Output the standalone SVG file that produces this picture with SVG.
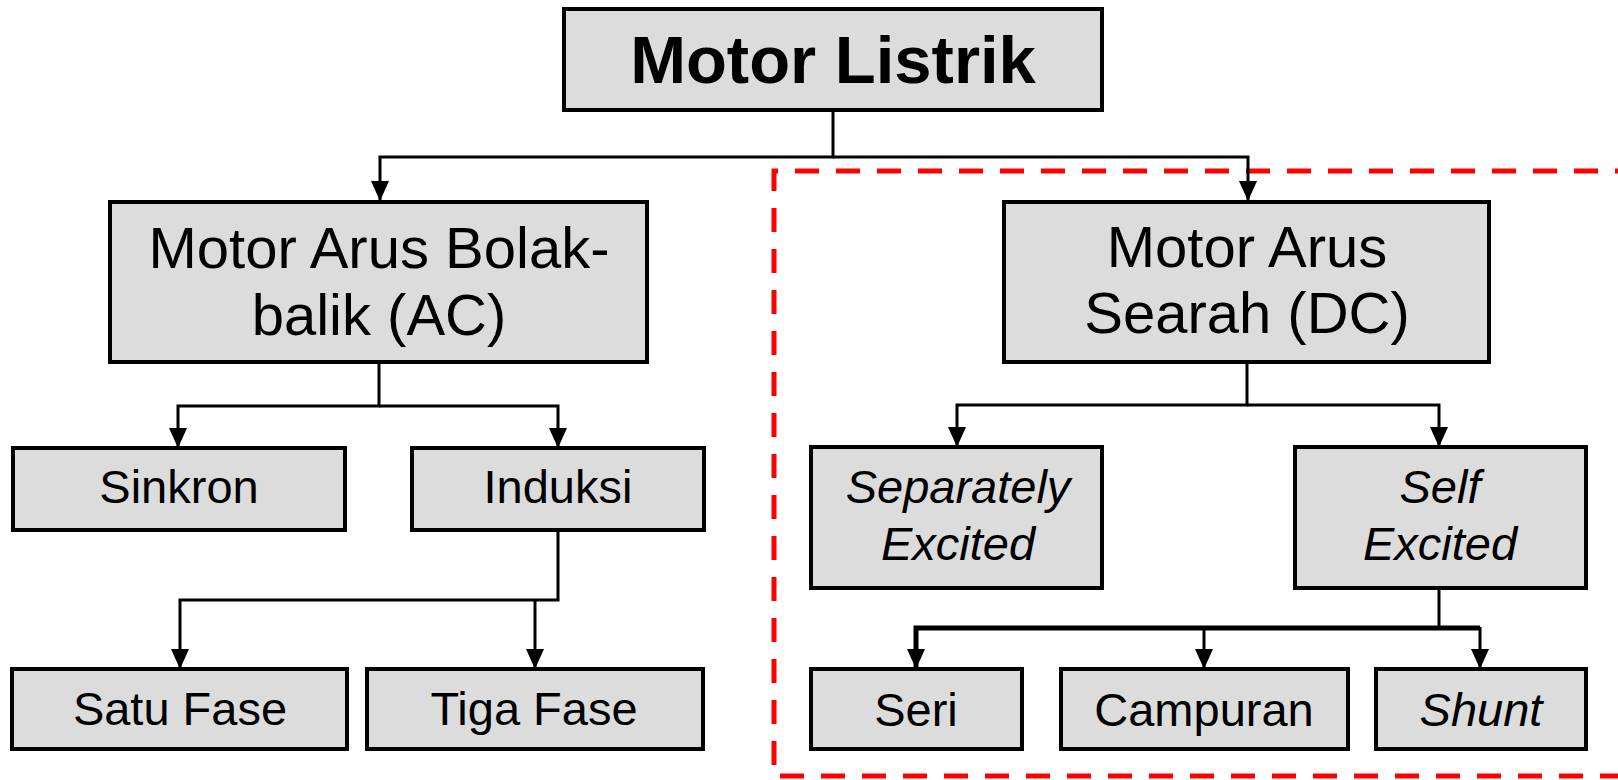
<svg xmlns="http://www.w3.org/2000/svg" width="1618" height="780" viewBox="0 0 1618 780">
<style>
.box{fill:#dcdcdc;stroke:#000;stroke-width:4}
.t{font-family:"Liberation Sans",Arial,sans-serif;fill:#000;text-anchor:middle}
.big{font-size:67px;font-weight:bold}
.mid{font-size:58px}
.sm{font-size:47px}
.it{font-style:italic}
.c{fill:none;stroke:#000;stroke-width:3}
.c2{fill:none;stroke:#000;stroke-width:5}
</style>
<defs>
<marker id="ah" markerUnits="userSpaceOnUse" viewBox="0 0 20 18" refX="20" refY="9" markerWidth="20" markerHeight="18" orient="auto">
<path d="M0,0 L20,9 L0,18 z" fill="#000"/>
</marker>
</defs>
<rect x="0" y="0" width="1618" height="780" fill="#fff"/>
<path id="dc-region" d="M1680,171 H774 V776 H1680" fill="none" stroke="#ff0000" stroke-width="5" stroke-dasharray="24 17"/>
<g id="connectors">
<path class="c" d="M833,110 V157 H380 V201" marker-end="url(#ah)"/>
<path class="c" d="M833,157 H1248 V201" marker-end="url(#ah)"/>
<path class="c" d="M379,362 V406 H178 V448" marker-end="url(#ah)"/>
<path class="c" d="M379,406 H558 V448" marker-end="url(#ah)"/>
<path class="c" d="M558,530 V600 H180 V669" marker-end="url(#ah)"/>
<path class="c" d="M535,600 V669" marker-end="url(#ah)"/>
<path class="c" d="M1247,362 V405 H957 V447" marker-end="url(#ah)"/>
<path class="c" d="M1247,405 H1439 V447" marker-end="url(#ah)"/>
<path class="c" d="M1439,588 V628"/>
<path class="c2" d="M1480,628 H916 V669" marker-end="url(#ah)"/>
<path class="c" d="M1204,628 V669" marker-end="url(#ah)"/>
<path class="c" d="M1480,627 V669" marker-end="url(#ah)"/>
</g>
<g id="motor-listrik"><rect class="box" x="564" y="9" width="538" height="101"/><text class="t big" x="833" y="83">Motor Listrik</text></g>
<g id="motor-ac"><rect class="box" x="110" y="202" width="537" height="160"/><text class="t mid" x="379" y="268">Motor Arus Bolak-</text><text class="t mid" x="379" y="335">balik (AC)</text></g>
<g id="motor-dc"><rect class="box" x="1004" y="202" width="485" height="160"/><text class="t mid" x="1247" y="267">Motor Arus</text><text class="t mid" x="1247" y="333">Searah (DC)</text></g>
<g id="sinkron"><rect class="box" x="13" y="448" width="332" height="82"/><text class="t sm" x="179" y="503">Sinkron</text></g>
<g id="induksi"><rect class="box" x="412" y="448" width="292" height="82"/><text class="t sm" x="558" y="503">Induksi</text></g>
<g id="satu-fase"><rect class="box" x="12" y="669" width="335" height="80"/><text class="t sm" x="180" y="725">Satu Fase</text></g>
<g id="tiga-fase"><rect class="box" x="367" y="669" width="336" height="80"/><text class="t sm" x="534" y="725">Tiga Fase</text></g>
<g id="separately"><rect class="box" x="811" y="447" width="291" height="141"/><text class="t sm it" x="958" y="503">Separately</text><text class="t sm it" x="958" y="560">Excited</text></g>
<g id="self"><rect class="box" x="1295" y="447" width="291" height="141"/><text class="t sm it" x="1440" y="503">Self</text><text class="t sm it" x="1440" y="560">Excited</text></g>
<g id="seri"><rect class="box" x="811" y="669" width="211" height="80"/><text class="t sm" x="916" y="726">Seri</text></g>
<g id="campuran"><rect class="box" x="1061" y="669" width="287" height="80"/><text class="t sm" x="1204" y="726">Campuran</text></g>
<g id="shunt"><rect class="box" x="1376" y="669" width="210" height="80"/><text class="t sm it" x="1481" y="726">Shunt</text></g>
</svg>
